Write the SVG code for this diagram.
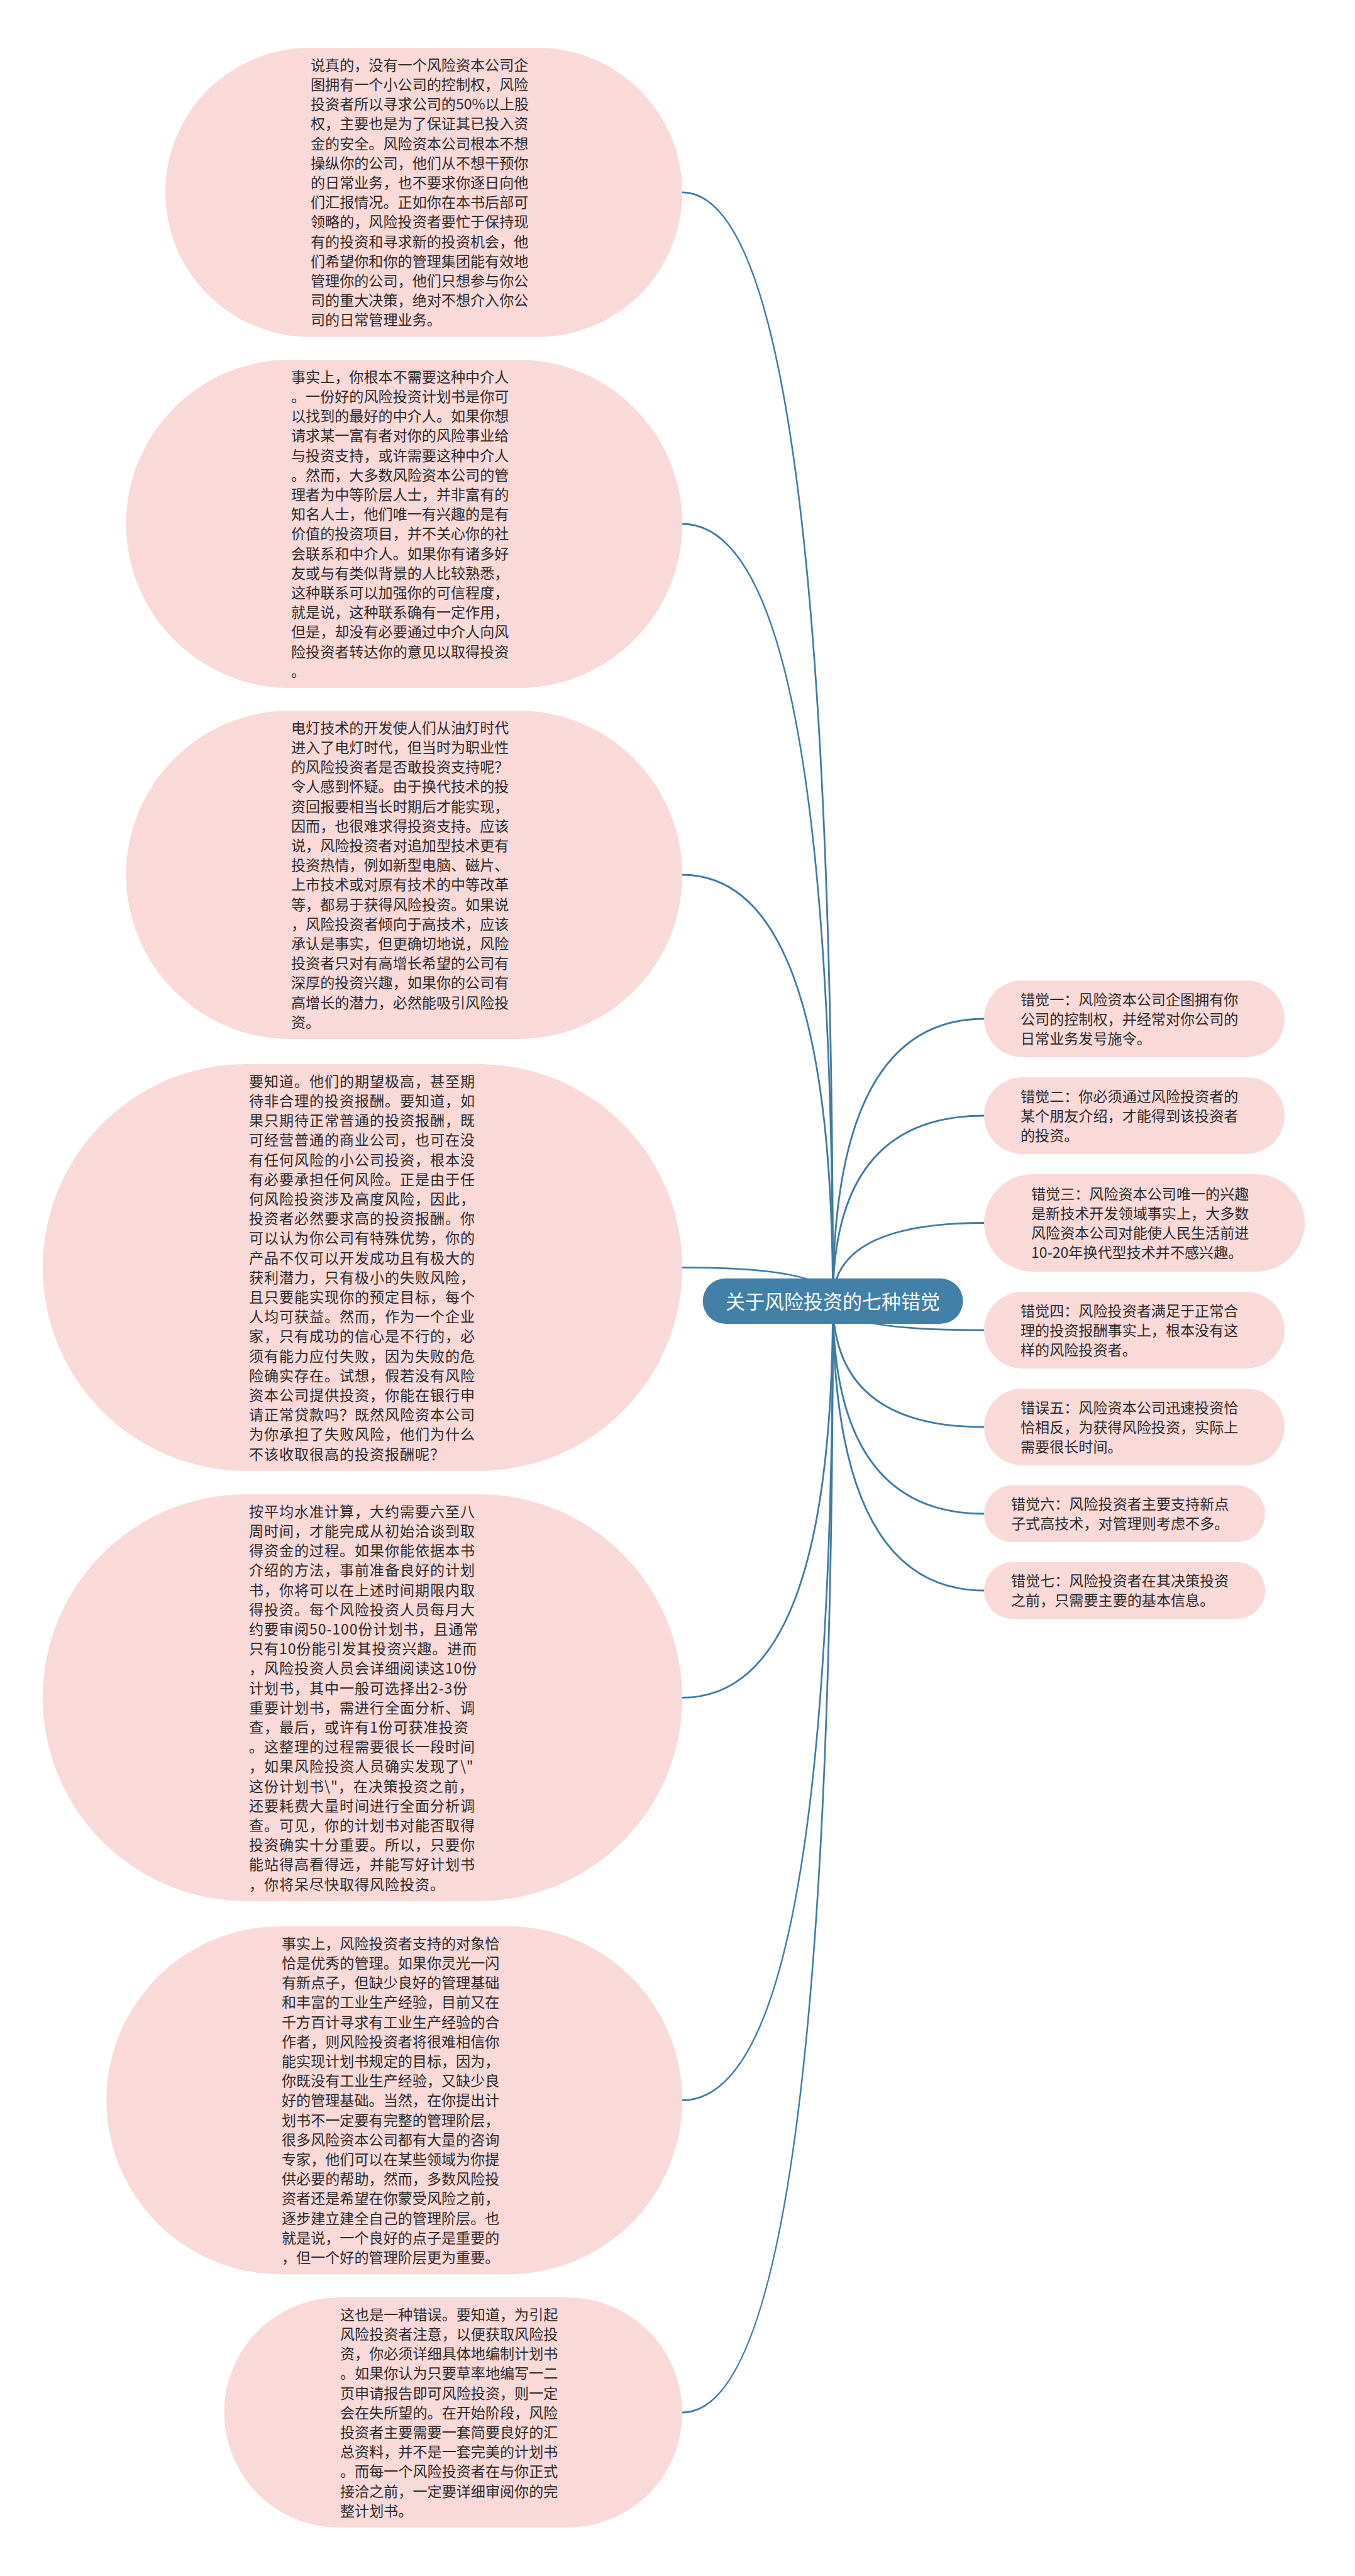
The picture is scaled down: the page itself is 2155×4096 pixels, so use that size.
<svg xmlns="http://www.w3.org/2000/svg" width="2155" height="4096" viewBox="0 0 2155 4096">
<style>
.bg{fill:#ffffff}
.bubble{fill:#fad9d9;stroke:none}
.center{fill:#4280a8;stroke:none}
.link{fill:none;stroke:#3f7aa3;stroke-width:2.8;stroke-linecap:round}
.t{font-family:"Noto Sans CJK SC","Noto Sans",sans-serif;font-size:23.1px;fill:#2b2b2b}
.tw{letter-spacing:0.9px}
.title{font-family:"Noto Sans CJK SC","Noto Sans",sans-serif;font-size:31px;fill:#ffffff;text-anchor:middle}
</style>
<rect class="bg" x="0" y="0" width="2155" height="4096"/>
<g id="connectors">
<path class="link" d="M1324.6 2068.9 Q1324.6 305.8 1085 305.8"/>
<path class="link" d="M1324.6 2068.9 Q1324.6 833 1085 833"/>
<path class="link" d="M1324.6 2068.9 Q1324.6 1391 1085 1391"/>
<path class="link" d="M1324.6 2068.9 Q1324.6 2015.4 1085 2015.4"/>
<path class="link" d="M1324.6 2068.9 Q1324.6 2699.4 1085 2699.4"/>
<path class="link" d="M1324.6 2068.9 Q1324.6 3339.6 1085 3339.6"/>
<path class="link" d="M1324.6 2068.9 Q1324.6 3836 1085 3836"/>
<path class="link" d="M1324.6 2068.9 Q1324.6 1620 1565 1620"/>
<path class="link" d="M1324.6 2068.9 Q1324.6 1774 1565 1774"/>
<path class="link" d="M1324.6 2068.9 Q1324.6 1944.5 1565 1944.5"/>
<path class="link" d="M1324.6 2068.9 Q1324.6 2115 1565 2115"/>
<path class="link" d="M1324.6 2068.9 Q1324.6 2269 1565 2269"/>
<path class="link" d="M1324.6 2068.9 Q1324.6 2407 1565 2407"/>
<path class="link" d="M1324.6 2068.9 Q1324.6 2529 1565 2529"/>
</g>
<g id="root">
<rect class="center" x="1117.7" y="2032.7" width="413.8" height="72.3" rx="36.15"/>
<text class="title" x="1324.6" y="2080.7">关于风险投资的七种错觉</text>
</g>
<g id="e1">
<rect class="bubble" x="263" y="76" width="822" height="459.6" rx="229.8"/>
<text class="t" x="494" y="111.8"><tspan x="494" dy="0">说真的，没有一个风险资本公司企</tspan><tspan x="494" dy="31.2">图拥有一个小公司的控制权，风险</tspan><tspan x="494" dy="31.2">投资者所以寻求公司的50%以上股</tspan><tspan x="494" dy="31.2">权，主要也是为了保证其已投入资</tspan><tspan x="494" dy="31.2">金的安全。风险资本公司根本不想</tspan><tspan x="494" dy="31.2">操纵你的公司，他们从不想干预你</tspan><tspan x="494" dy="31.2">的日常业务，也不要求你逐日向他</tspan><tspan x="494" dy="31.2">们汇报情况。正如你在本书后部可</tspan><tspan x="494" dy="31.2">领略的，风险投资者要忙于保持现</tspan><tspan x="494" dy="31.2">有的投资和寻求新的投资机会，他</tspan><tspan x="494" dy="31.2">们希望你和你的管理集团能有效地</tspan><tspan x="494" dy="31.2">管理你的公司，他们只想参与你公</tspan><tspan x="494" dy="31.2">司的重大决策，绝对不想介入你公</tspan><tspan x="494" dy="31.2">司的日常管理业务。</tspan></text>
</g>
<g id="e2">
<rect class="bubble" x="200.5" y="572" width="884.5" height="522" rx="261"/>
<text class="t" x="463" y="607.8"><tspan x="463" dy="0">事实上，你根本不需要这种中介人</tspan><tspan x="463" dy="31.2">。一份好的风险投资计划书是你可</tspan><tspan x="463" dy="31.2">以找到的最好的中介人。如果你想</tspan><tspan x="463" dy="31.2">请求某一富有者对你的风险事业给</tspan><tspan x="463" dy="31.2">与投资支持，或许需要这种中介人</tspan><tspan x="463" dy="31.2">。然而，大多数风险资本公司的管</tspan><tspan x="463" dy="31.2">理者为中等阶层人士，并非富有的</tspan><tspan x="463" dy="31.2">知名人士，他们唯一有兴趣的是有</tspan><tspan x="463" dy="31.2">价值的投资项目，并不关心你的社</tspan><tspan x="463" dy="31.2">会联系和中介人。如果你有诸多好</tspan><tspan x="463" dy="31.2">友或与有类似背景的人比较熟悉，</tspan><tspan x="463" dy="31.2">这种联系可以加强你的可信程度，</tspan><tspan x="463" dy="31.2">就是说，这种联系确有一定作用，</tspan><tspan x="463" dy="31.2">但是，却没有必要通过中介人向风</tspan><tspan x="463" dy="31.2">险投资者转达你的意见以取得投资</tspan><tspan x="463" dy="31.2">。</tspan></text>
</g>
<g id="e3">
<rect class="bubble" x="200.5" y="1130" width="884.5" height="522" rx="261"/>
<text class="t" x="463" y="1165.8"><tspan x="463" dy="0">电灯技术的开发使人们从油灯时代</tspan><tspan x="463" dy="31.2">进入了电灯时代，但当时为职业性</tspan><tspan x="463" dy="31.2">的风险投资者是否敢投资支持呢？</tspan><tspan x="463" dy="31.2">令人感到怀疑。由于换代技术的投</tspan><tspan x="463" dy="31.2">资回报要相当长时期后才能实现，</tspan><tspan x="463" dy="31.2">因而，也很难求得投资支持。应该</tspan><tspan x="463" dy="31.2">说，风险投资者对追加型技术更有</tspan><tspan x="463" dy="31.2">投资热情，例如新型电脑、磁片、</tspan><tspan x="463" dy="31.2">上市技术或对原有技术的中等改革</tspan><tspan x="463" dy="31.2">等，都易于获得风险投资。如果说</tspan><tspan x="463" dy="31.2">，风险投资者倾向于高技术，应该</tspan><tspan x="463" dy="31.2">承认是事实，但更确切地说，风险</tspan><tspan x="463" dy="31.2">投资者只对有高增长希望的公司有</tspan><tspan x="463" dy="31.2">深厚的投资兴趣，如果你的公司有</tspan><tspan x="463" dy="31.2">高增长的潜力，必然能吸引风险投</tspan><tspan x="463" dy="31.2">资。</tspan></text>
</g>
<g id="e4">
<rect class="bubble" x="68" y="1692" width="1017" height="646.8" rx="323.4"/>
<text class="t tw" x="396" y="1727.8"><tspan x="396" dy="0">要知道。他们的期望极高，甚至期</tspan><tspan x="396" dy="31.2">待非合理的投资报酬。要知道，如</tspan><tspan x="396" dy="31.2">果只期待正常普通的投资报酬，既</tspan><tspan x="396" dy="31.2">可经营普通的商业公司，也可在没</tspan><tspan x="396" dy="31.2">有任何风险的小公司投资，根本没</tspan><tspan x="396" dy="31.2">有必要承担任何风险。正是由于任</tspan><tspan x="396" dy="31.2">何风险投资涉及高度风险，因此，</tspan><tspan x="396" dy="31.2">投资者必然要求高的投资报酬。你</tspan><tspan x="396" dy="31.2">可以认为你公司有特殊优势，你的</tspan><tspan x="396" dy="31.2">产品不仅可以开发成功且有极大的</tspan><tspan x="396" dy="31.2">获利潜力，只有极小的失败风险，</tspan><tspan x="396" dy="31.2">且只要能实现你的预定目标，每个</tspan><tspan x="396" dy="31.2">人均可获益。然而，作为一个企业</tspan><tspan x="396" dy="31.2">家，只有成功的信心是不行的，必</tspan><tspan x="396" dy="31.2">须有能力应付失败，因为失败的危</tspan><tspan x="396" dy="31.2">险确实存在。试想，假若没有风险</tspan><tspan x="396" dy="31.2">资本公司提供投资，你能在银行申</tspan><tspan x="396" dy="31.2">请正常贷款吗？既然风险资本公司</tspan><tspan x="396" dy="31.2">为你承担了失败风险，他们为什么</tspan><tspan x="396" dy="31.2">不该收取很高的投资报酬呢？</tspan></text>
</g>
<g id="e5">
<rect class="bubble" x="68" y="2376" width="1017" height="646.8" rx="323.4"/>
<text class="t tw" x="396" y="2411.8"><tspan x="396" dy="0">按平均水准计算，大约需要六至八</tspan><tspan x="396" dy="31.2">周时间，才能完成从初始洽谈到取</tspan><tspan x="396" dy="31.2">得资金的过程。如果你能依据本书</tspan><tspan x="396" dy="31.2">介绍的方法，事前准备良好的计划</tspan><tspan x="396" dy="31.2">书，你将可以在上述时间期限内取</tspan><tspan x="396" dy="31.2">得投资。每个风险投资人员每月大</tspan><tspan x="396" dy="31.2">约要审阅50-100份计划书，且通常</tspan><tspan x="396" dy="31.2">只有10份能引发其投资兴趣。进而</tspan><tspan x="396" dy="31.2">，风险投资人员会详细阅读这10份</tspan><tspan x="396" dy="31.2">计划书，其中一般可选择出2-3份</tspan><tspan x="396" dy="31.2">重要计划书，需进行全面分析、调</tspan><tspan x="396" dy="31.2">查，最后，或许有1份可获准投资</tspan><tspan x="396" dy="31.2">。这整理的过程需要很长一段时间</tspan><tspan x="396" dy="31.2">，如果风险投资人员确实发现了\"</tspan><tspan x="396" dy="31.2">这份计划书\"，在决策投资之前，</tspan><tspan x="396" dy="31.2">还要耗费大量时间进行全面分析调</tspan><tspan x="396" dy="31.2">查。可见，你的计划书对能否取得</tspan><tspan x="396" dy="31.2">投资确实十分重要。所以，只要你</tspan><tspan x="396" dy="31.2">能站得高看得远，并能写好计划书</tspan><tspan x="396" dy="31.2">，你将呆尽快取得风险投资。</tspan></text>
</g>
<g id="e6">
<rect class="bubble" x="169.3" y="3063" width="915.7" height="553.2" rx="276.6"/>
<text class="t" x="448" y="3098.8"><tspan x="448" dy="0">事实上，风险投资者支持的对象恰</tspan><tspan x="448" dy="31.2">恰是优秀的管理。如果你灵光一闪</tspan><tspan x="448" dy="31.2">有新点子，但缺少良好的管理基础</tspan><tspan x="448" dy="31.2">和丰富的工业生产经验，目前又在</tspan><tspan x="448" dy="31.2">千方百计寻求有工业生产经验的合</tspan><tspan x="448" dy="31.2">作者，则风险投资者将很难相信你</tspan><tspan x="448" dy="31.2">能实现计划书规定的目标，因为，</tspan><tspan x="448" dy="31.2">你既没有工业生产经验，又缺少良</tspan><tspan x="448" dy="31.2">好的管理基础。当然，在你提出计</tspan><tspan x="448" dy="31.2">划书不一定要有完整的管理阶层，</tspan><tspan x="448" dy="31.2">很多风险资本公司都有大量的咨询</tspan><tspan x="448" dy="31.2">专家，他们可以在某些领域为你提</tspan><tspan x="448" dy="31.2">供必要的帮助，然而，多数风险投</tspan><tspan x="448" dy="31.2">资者还是希望在你蒙受风险之前，</tspan><tspan x="448" dy="31.2">逐步建立建全自己的管理阶层。也</tspan><tspan x="448" dy="31.2">就是说，一个良好的点子是重要的</tspan><tspan x="448" dy="31.2">，但一个好的管理阶层更为重要。</tspan></text>
</g>
<g id="e7">
<rect class="bubble" x="356.5" y="3653" width="728.5" height="366" rx="183"/>
<text class="t" x="541" y="3688.8"><tspan x="541" dy="0">这也是一种错误。要知道，为引起</tspan><tspan x="541" dy="31.2">风险投资者注意，以便获取风险投</tspan><tspan x="541" dy="31.2">资，你必须详细具体地编制计划书</tspan><tspan x="541" dy="31.2">。如果你认为只要草率地编写一二</tspan><tspan x="541" dy="31.2">页申请报告即可风险投资，则一定</tspan><tspan x="541" dy="31.2">会在失所望的。在开始阶段，风险</tspan><tspan x="541" dy="31.2">投资者主要需要一套简要良好的汇</tspan><tspan x="541" dy="31.2">总资料，并不是一套完美的计划书</tspan><tspan x="541" dy="31.2">。而每一个风险投资者在与你正式</tspan><tspan x="541" dy="31.2">接洽之前，一定要详细审阅你的完</tspan><tspan x="541" dy="31.2">整计划书。</tspan></text>
</g>
<g id="r1">
<rect class="bubble" x="1565" y="1559" width="478" height="122" rx="61"/>
<text class="t" x="1623" y="1597.6"><tspan x="1623" dy="0">错觉一：风险资本公司企图拥有你</tspan><tspan x="1623" dy="31.2">公司的控制权，并经常对你公司的</tspan><tspan x="1623" dy="31.2">日常业务发号施令。</tspan></text>
</g>
<g id="r2">
<rect class="bubble" x="1565" y="1713" width="478" height="122" rx="61"/>
<text class="t" x="1623" y="1751.6"><tspan x="1623" dy="0">错觉二：你必须通过风险投资者的</tspan><tspan x="1623" dy="31.2">某个朋友介绍，才能得到该投资者</tspan><tspan x="1623" dy="31.2">的投资。</tspan></text>
</g>
<g id="r3">
<rect class="bubble" x="1565" y="1867" width="510" height="155" rx="77.5"/>
<text class="t" x="1640" y="1906.5"><tspan x="1640" dy="0">错觉三：风险资本公司唯一的兴趣</tspan><tspan x="1640" dy="31.2">是新技术开发领域事实上，大多数</tspan><tspan x="1640" dy="31.2">风险资本公司对能使人民生活前进</tspan><tspan x="1640" dy="31.2">10-20年换代型技术并不感兴趣。</tspan></text>
</g>
<g id="r4">
<rect class="bubble" x="1565" y="2054" width="478" height="122" rx="61"/>
<text class="t" x="1623" y="2092.6"><tspan x="1623" dy="0">错觉四：风险投资者满足于正常合</tspan><tspan x="1623" dy="31.2">理的投资报酬事实上，根本没有这</tspan><tspan x="1623" dy="31.2">样的风险投资者。</tspan></text>
</g>
<g id="r5">
<rect class="bubble" x="1565" y="2208" width="478" height="122" rx="61"/>
<text class="t" x="1623" y="2246.6"><tspan x="1623" dy="0">错误五：风险资本公司迅速投资恰</tspan><tspan x="1623" dy="31.2">恰相反，为获得风险投资，实际上</tspan><tspan x="1623" dy="31.2">需要很长时间。</tspan></text>
</g>
<g id="r6">
<rect class="bubble" x="1565" y="2362" width="447" height="90" rx="45"/>
<text class="t" x="1608" y="2400.2"><tspan x="1608" dy="0">错觉六：风险投资者主要支持新点</tspan><tspan x="1608" dy="31.2">子式高技术，对管理则考虑不多。</tspan></text>
</g>
<g id="r7">
<rect class="bubble" x="1565" y="2484" width="447" height="90" rx="45"/>
<text class="t" x="1608" y="2522.2"><tspan x="1608" dy="0">错觉七：风险投资者在其决策投资</tspan><tspan x="1608" dy="31.2">之前，只需要主要的基本信息。</tspan></text>
</g>
</svg>
